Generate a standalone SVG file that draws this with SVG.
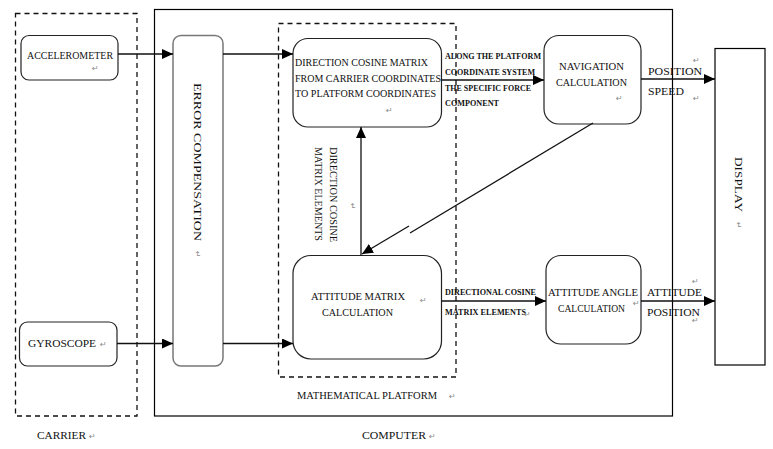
<svg xmlns="http://www.w3.org/2000/svg" width="773" height="449" viewBox="0 0 773 449">
<style>
.t{font-family:"Liberation Serif","Times New Roman",serif;font-size:10px;fill:#111}
.s{font-family:"Liberation Serif","Times New Roman",serif;font-size:8px;font-weight:bold;fill:#111}
.p{font-family:"DejaVu Sans",sans-serif;font-size:8px;fill:#888}
.box{fill:#fff;stroke:#222;stroke-width:1.2}
.dash{fill:none;stroke:#111;stroke-width:1.3;stroke-dasharray:5,4}
.ln{fill:none;stroke:#111;stroke-width:1.3}
</style>
<defs>
<marker id="ah" markerUnits="userSpaceOnUse" markerWidth="12" markerHeight="10" refX="11" refY="5" orient="auto">
<path d="M0,0 L11,5 L0,10 Z" fill="#000"/>
</marker>
</defs>
<rect width="773" height="449" fill="#fff"/>

<g id="carrier">
<rect class="dash" x="15.5" y="13.5" width="121.5" height="402.5"/>
<text class="t" x="37" y="439" textLength="49" lengthAdjust="spacingAndGlyphs">CARRIER</text>
<text class="p" x="89" y="439">↵</text>
</g>

<g id="computer">
<rect x="154.5" y="9.5" width="518" height="406.5" fill="none" stroke="#000" stroke-width="1.2"/>
<text class="t" x="362" y="439" textLength="64" lengthAdjust="spacingAndGlyphs">COMPUTER</text>
<text class="p" x="429" y="439">↵</text>
</g>

<g id="math-platform">
<rect class="dash" x="278.5" y="23.5" width="177.5" height="353.5"/>
<text class="t" x="297" y="399" font-size="9" textLength="140" lengthAdjust="spacingAndGlyphs">MATHEMATICAL PLATFORM</text>
<text class="p" x="449" y="399">↵</text>
</g>

<g id="accelerometer">
<rect class="box" x="21" y="35.5" width="97" height="44.5" rx="8"/>
<text class="t" x="27" y="59" textLength="86" lengthAdjust="spacingAndGlyphs">ACCELEROMETER</text>
<text class="p" x="92" y="71">↵</text>
</g>

<g id="gyroscope">
<rect class="box" x="19.5" y="322" width="97.5" height="44" rx="8"/>
<text class="t" x="28" y="347" textLength="68" lengthAdjust="spacingAndGlyphs">GYROSCOPE</text>
<text class="p" x="100" y="347">↵</text>
</g>

<g id="error-compensation">
<rect x="173" y="35.5" width="50" height="330.5" rx="8" fill="#fff" stroke="#777" stroke-width="1.5"/>
<text class="t" transform="translate(194,83) rotate(90)" font-size="11" textLength="158" lengthAdjust="spacingAndGlyphs">ERROR COMPENSATION</text>
<text class="p" transform="translate(195,251) rotate(90)">↵</text>
</g>

<g id="dcm">
<rect class="box" x="293" y="38.5" width="148.5" height="88.5" rx="15"/>
<text class="t" x="295" y="66" textLength="133" lengthAdjust="spacingAndGlyphs">DIRECTION COSINE MATRIX</text>
<text class="t" x="295" y="81.5" textLength="146" lengthAdjust="spacingAndGlyphs">FROM CARRIER COORDINATES</text>
<text class="t" x="295" y="97" textLength="141" lengthAdjust="spacingAndGlyphs">TO PLATFORM COORDINATES</text>
<text class="p" x="386" y="113">↵</text>
</g>

<g id="attitude-matrix">
<rect class="box" x="293" y="255.5" width="148.5" height="103.5" rx="18"/>
<text class="t" x="311" y="300" textLength="94" lengthAdjust="spacingAndGlyphs">ATTITUDE MATRIX</text>
<text class="t" x="322" y="316" textLength="71" lengthAdjust="spacingAndGlyphs">CALCULATION</text>
<text class="p" x="420" y="303">↵</text>
</g>

<g id="navigation">
<rect class="box" x="544" y="35.5" width="97" height="88.5" rx="15"/>
<text class="t" x="559" y="70" textLength="65" lengthAdjust="spacingAndGlyphs">NAVIGATION</text>
<text class="t" x="556" y="86" textLength="71" lengthAdjust="spacingAndGlyphs">CALCULATION</text>
<text class="p" x="616" y="101">↵</text>
</g>

<g id="attitude-angle">
<rect class="box" x="546" y="255.5" width="95" height="88.5" rx="15"/>
<text class="t" x="548" y="296" font-size="9" textLength="90" lengthAdjust="spacingAndGlyphs">ATTITUDE ANGLE</text>
<text class="t" x="558" y="312" font-size="9" textLength="67" lengthAdjust="spacingAndGlyphs">CALCULATION</text>
<text class="p" x="633" y="306">↵</text>
</g>

<g id="display">
<rect x="715" y="48.5" width="50" height="316.5" fill="#fff" stroke="#000" stroke-width="1.2"/>
<text class="t" transform="translate(735,157) rotate(90)" font-size="11" textLength="55" lengthAdjust="spacingAndGlyphs">DISPLAY</text>
<text class="p" transform="translate(736,222) rotate(90)">↵</text>
</g>

<g id="connectors">
<line class="ln" x1="118" y1="54" x2="173" y2="54" marker-end="url(#ah)"/>
<line class="ln" x1="117" y1="343.5" x2="173" y2="343.5" marker-end="url(#ah)"/>
<line class="ln" x1="223" y1="54" x2="293" y2="54" marker-end="url(#ah)"/>
<line class="ln" x1="223" y1="343.5" x2="293" y2="343.5" marker-end="url(#ah)"/>
<line class="ln" x1="361" y1="255.5" x2="361" y2="127" marker-end="url(#ah)"/>
<line class="ln" x1="593" y1="123" x2="410" y2="233"/>
<line class="ln" x1="409" y1="226" x2="362" y2="254" marker-end="url(#ah)"/>
<line class="ln" x1="441.5" y1="80" x2="544" y2="80" marker-end="url(#ah)"/>
<line class="ln" x1="641" y1="79" x2="715" y2="79" marker-end="url(#ah)"/>
<line class="ln" x1="441.5" y1="301" x2="546" y2="301" marker-end="url(#ah)"/>
<line class="ln" x1="641" y1="301" x2="715" y2="301" marker-end="url(#ah)"/>

<text class="t" transform="translate(330,147) rotate(90)" font-size="9" textLength="95" lengthAdjust="spacingAndGlyphs">DIRECTION COSINE</text>
<text class="t" transform="translate(315,147) rotate(90)" font-size="9" textLength="94" lengthAdjust="spacingAndGlyphs">MATRIX ELEMENTS</text>
<text class="p" transform="translate(350,203) rotate(90)">↵</text>

<text class="s" x="445" y="59" textLength="96" lengthAdjust="spacingAndGlyphs">ALONG THE PLATFORM</text>
<text class="s" x="445" y="75" textLength="90" lengthAdjust="spacingAndGlyphs">COORDINATE SYSTEM</text>
<text class="s" x="445" y="91" textLength="86" lengthAdjust="spacingAndGlyphs">THE SPECIFIC FORCE</text>
<text class="s" x="445" y="106" textLength="54" lengthAdjust="spacingAndGlyphs">COMPONENT</text>

<text class="t" x="648" y="75" textLength="54" lengthAdjust="spacingAndGlyphs">POSITION</text>
<text class="p" x="693" y="63">↵</text>
<text class="t" x="648" y="95" textLength="36" lengthAdjust="spacingAndGlyphs">SPEED</text>
<text class="p" x="693" y="101">↵</text>

<text class="s" x="445" y="295" textLength="91" lengthAdjust="spacingAndGlyphs">DIRECTIONAL COSINE</text>
<text class="s" x="445" y="315" textLength="81" lengthAdjust="spacingAndGlyphs">MATRIX ELEMENTS</text>
<text class="p" x="524" y="317">↵</text>

<text class="t" x="647" y="296" textLength="55" lengthAdjust="spacingAndGlyphs">ATTITUDE</text>
<text class="p" x="692" y="284">↵</text>
<text class="t" x="647" y="316" textLength="53" lengthAdjust="spacingAndGlyphs">POSITION</text>
<text class="p" x="692" y="323">↵</text>
</g>
</svg>
